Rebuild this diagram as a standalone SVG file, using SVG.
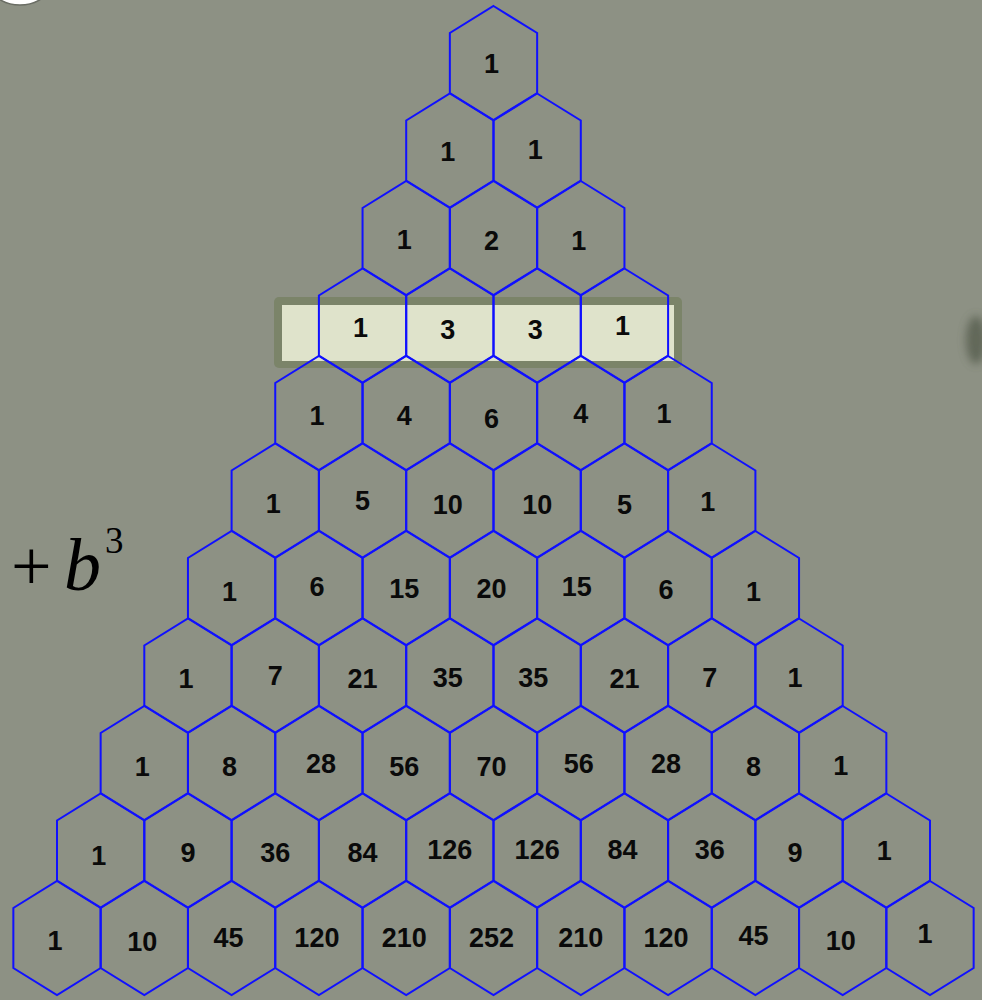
<svg xmlns="http://www.w3.org/2000/svg" xmlns:xlink="http://www.w3.org/1999/xlink" width="982" height="1000" viewBox="0 0 982 1000">
<style>
.hex{fill:none;stroke:#1010ff;stroke-width:2;stroke-linejoin:miter}
.num{font-family:"Liberation Sans",Arial,sans-serif;font-weight:bold;font-size:27px;fill:#0a0a0a;stroke:none;text-anchor:middle}
.math{font-family:"Liberation Serif","Times New Roman",serif;fill:#000}
</style>
<defs>
<path id="hex" d="M0,-57 L43.65,-30 L43.65,30 L0,57 L-43.65,30 L-43.65,-30 Z"/>
<filter id="blur" x="-50%" y="-50%" width="200%" height="200%"><feGaussianBlur stdDeviation="4"/></filter>
</defs>
<rect x="0" y="0" width="982" height="1000" fill="#8d9184"/>
<ellipse cx="976" cy="340" rx="10" ry="24" fill="#4f5646" opacity="0.7" filter="url(#blur)"/>
<ellipse cx="20" cy="-10" rx="26" ry="15" fill="#ffffff" stroke="#6a6d64" stroke-width="1.5"/>
<g id="highlight">
<rect x="274" y="297" width="408" height="71" rx="5" fill="#7b8469"/>
<rect x="282" y="305" width="392" height="56" fill="#dfe3cb"/>
</g>
<g id="math-label">
<text class="math" x="11" y="590" font-size="72">+</text>
<text class="math" x="64" y="590" font-size="74" font-style="italic">b</text>
<text class="math" x="105" y="553" font-size="37">3</text>
</g>
<g id="hexes">
<g id="r0k0"><use href="#hex" x="493.5" y="63" class="hex"/><text class="num" x="491.5" y="73">1</text></g>
<g id="r1k0"><use href="#hex" x="449.85" y="150.5" class="hex"/><text class="num" x="447.85" y="160.5">1</text></g>
<g id="r1k1"><use href="#hex" x="537.15" y="150.5" class="hex"/><text class="num" x="535.15" y="158.5">1</text></g>
<g id="r2k0"><use href="#hex" x="406.2" y="238" class="hex"/><text class="num" x="404.2" y="249">1</text></g>
<g id="r2k1"><use href="#hex" x="493.5" y="238" class="hex"/><text class="num" x="491.5" y="250">2</text></g>
<g id="r2k2"><use href="#hex" x="580.8" y="238" class="hex"/><text class="num" x="578.8" y="250">1</text></g>
<g id="r3k0"><use href="#hex" x="362.55" y="325.5" class="hex"/><text class="num" x="360.55" y="337">1</text></g>
<g id="r3k1"><use href="#hex" x="449.85" y="325.5" class="hex"/><text class="num" x="447.85" y="339">3</text></g>
<g id="r3k2"><use href="#hex" x="537.15" y="325.5" class="hex"/><text class="num" x="535.15" y="339">3</text></g>
<g id="r3k3"><use href="#hex" x="624.45" y="325.5" class="hex"/><text class="num" x="622.45" y="335">1</text></g>
<g id="r4k0"><use href="#hex" x="318.9" y="413" class="hex"/><text class="num" x="316.9" y="425">1</text></g>
<g id="r4k1"><use href="#hex" x="406.2" y="413" class="hex"/><text class="num" x="404.2" y="425">4</text></g>
<g id="r4k2"><use href="#hex" x="493.5" y="413" class="hex"/><text class="num" x="491.5" y="428">6</text></g>
<g id="r4k3"><use href="#hex" x="580.8" y="413" class="hex"/><text class="num" x="580.8" y="423">4</text></g>
<g id="r4k4"><use href="#hex" x="668.1" y="413" class="hex"/><text class="num" x="664.1" y="423">1</text></g>
<g id="r5k0"><use href="#hex" x="275.25" y="500.5" class="hex"/><text class="num" x="273.25" y="513">1</text></g>
<g id="r5k1"><use href="#hex" x="362.55" y="500.5" class="hex"/><text class="num" x="362.55" y="510">5</text></g>
<g id="r5k2"><use href="#hex" x="449.85" y="500.5" class="hex"/><text class="num" x="447.85" y="514">10</text></g>
<g id="r5k3"><use href="#hex" x="537.15" y="500.5" class="hex"/><text class="num" x="537.15" y="514">10</text></g>
<g id="r5k4"><use href="#hex" x="624.45" y="500.5" class="hex"/><text class="num" x="624.45" y="514">5</text></g>
<g id="r5k5"><use href="#hex" x="711.75" y="500.5" class="hex"/><text class="num" x="707.75" y="511">1</text></g>
<g id="r6k0"><use href="#hex" x="231.6" y="588" class="hex"/><text class="num" x="229.6" y="601">1</text></g>
<g id="r6k1"><use href="#hex" x="318.9" y="588" class="hex"/><text class="num" x="316.9" y="596">6</text></g>
<g id="r6k2"><use href="#hex" x="406.2" y="588" class="hex"/><text class="num" x="404.2" y="598">15</text></g>
<g id="r6k3"><use href="#hex" x="493.5" y="588" class="hex"/><text class="num" x="491.5" y="598">20</text></g>
<g id="r6k4"><use href="#hex" x="580.8" y="588" class="hex"/><text class="num" x="576.8" y="596">15</text></g>
<g id="r6k5"><use href="#hex" x="668.1" y="588" class="hex"/><text class="num" x="666.1" y="599">6</text></g>
<g id="r6k6"><use href="#hex" x="755.4" y="588" class="hex"/><text class="num" x="753.4" y="601">1</text></g>
<g id="r7k0"><use href="#hex" x="187.95" y="675.5" class="hex"/><text class="num" x="185.95" y="688">1</text></g>
<g id="r7k1"><use href="#hex" x="275.25" y="675.5" class="hex"/><text class="num" x="275.25" y="685">7</text></g>
<g id="r7k2"><use href="#hex" x="362.55" y="675.5" class="hex"/><text class="num" x="362.55" y="688">21</text></g>
<g id="r7k3"><use href="#hex" x="449.85" y="675.5" class="hex"/><text class="num" x="447.85" y="687">35</text></g>
<g id="r7k4"><use href="#hex" x="537.15" y="675.5" class="hex"/><text class="num" x="533.15" y="687">35</text></g>
<g id="r7k5"><use href="#hex" x="624.45" y="675.5" class="hex"/><text class="num" x="624.45" y="688">21</text></g>
<g id="r7k6"><use href="#hex" x="711.75" y="675.5" class="hex"/><text class="num" x="709.75" y="687">7</text></g>
<g id="r7k7"><use href="#hex" x="799.05" y="675.5" class="hex"/><text class="num" x="795.05" y="687">1</text></g>
<g id="r8k0"><use href="#hex" x="144.3" y="763" class="hex"/><text class="num" x="142.3" y="776">1</text></g>
<g id="r8k1"><use href="#hex" x="231.6" y="763" class="hex"/><text class="num" x="229.6" y="776">8</text></g>
<g id="r8k2"><use href="#hex" x="318.9" y="763" class="hex"/><text class="num" x="320.9" y="773">28</text></g>
<g id="r8k3"><use href="#hex" x="406.2" y="763" class="hex"/><text class="num" x="404.2" y="776">56</text></g>
<g id="r8k4"><use href="#hex" x="493.5" y="763" class="hex"/><text class="num" x="491.5" y="776">70</text></g>
<g id="r8k5"><use href="#hex" x="580.8" y="763" class="hex"/><text class="num" x="578.8" y="773">56</text></g>
<g id="r8k6"><use href="#hex" x="668.1" y="763" class="hex"/><text class="num" x="666.1" y="773">28</text></g>
<g id="r8k7"><use href="#hex" x="755.4" y="763" class="hex"/><text class="num" x="753.4" y="776">8</text></g>
<g id="r8k8"><use href="#hex" x="842.7" y="763" class="hex"/><text class="num" x="840.7" y="775">1</text></g>
<g id="r9k0"><use href="#hex" x="100.65" y="850.5" class="hex"/><text class="num" x="98.65" y="865">1</text></g>
<g id="r9k1"><use href="#hex" x="187.95" y="850.5" class="hex"/><text class="num" x="187.95" y="862">9</text></g>
<g id="r9k2"><use href="#hex" x="275.25" y="850.5" class="hex"/><text class="num" x="275.25" y="862">36</text></g>
<g id="r9k3"><use href="#hex" x="362.55" y="850.5" class="hex"/><text class="num" x="362.55" y="862">84</text></g>
<g id="r9k4"><use href="#hex" x="449.85" y="850.5" class="hex"/><text class="num" x="449.85" y="859">126</text></g>
<g id="r9k5"><use href="#hex" x="537.15" y="850.5" class="hex"/><text class="num" x="537.15" y="859">126</text></g>
<g id="r9k6"><use href="#hex" x="624.45" y="850.5" class="hex"/><text class="num" x="622.45" y="859">84</text></g>
<g id="r9k7"><use href="#hex" x="711.75" y="850.5" class="hex"/><text class="num" x="709.75" y="859">36</text></g>
<g id="r9k8"><use href="#hex" x="799.05" y="850.5" class="hex"/><text class="num" x="795.05" y="862">9</text></g>
<g id="r9k9"><use href="#hex" x="886.35" y="850.5" class="hex"/><text class="num" x="884.35" y="860">1</text></g>
<g id="r10k0"><use href="#hex" x="57" y="938" class="hex"/><text class="num" x="55" y="950">1</text></g>
<g id="r10k1"><use href="#hex" x="144.3" y="938" class="hex"/><text class="num" x="142.3" y="951">10</text></g>
<g id="r10k2"><use href="#hex" x="231.6" y="938" class="hex"/><text class="num" x="228.6" y="947">45</text></g>
<g id="r10k3"><use href="#hex" x="318.9" y="938" class="hex"/><text class="num" x="316.9" y="947">120</text></g>
<g id="r10k4"><use href="#hex" x="406.2" y="938" class="hex"/><text class="num" x="404.2" y="947">210</text></g>
<g id="r10k5"><use href="#hex" x="493.5" y="938" class="hex"/><text class="num" x="491.5" y="947">252</text></g>
<g id="r10k6"><use href="#hex" x="580.8" y="938" class="hex"/><text class="num" x="580.8" y="947">210</text></g>
<g id="r10k7"><use href="#hex" x="668.1" y="938" class="hex"/><text class="num" x="666.1" y="947">120</text></g>
<g id="r10k8"><use href="#hex" x="755.4" y="938" class="hex"/><text class="num" x="753.4" y="945">45</text></g>
<g id="r10k9"><use href="#hex" x="842.7" y="938" class="hex"/><text class="num" x="840.7" y="950">10</text></g>
<g id="r10k10"><use href="#hex" x="930" y="938" class="hex"/><text class="num" x="925" y="943">1</text></g>
</g>
<g id="connectors"/>
</svg>
